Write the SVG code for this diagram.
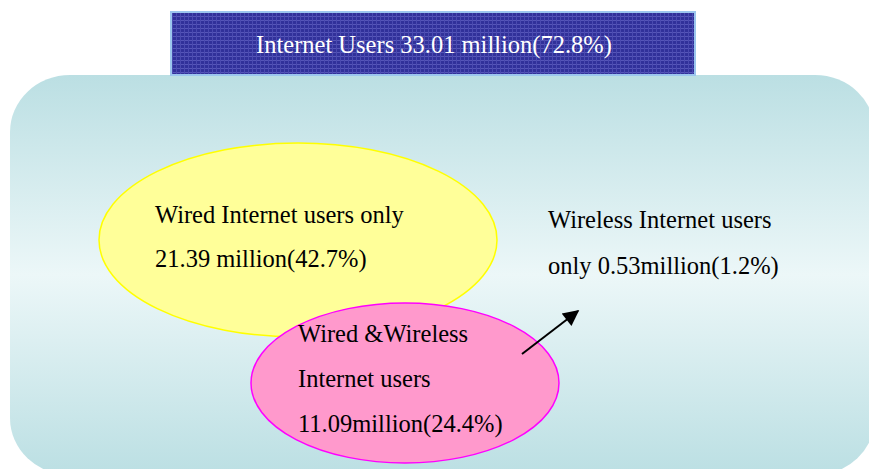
<svg xmlns="http://www.w3.org/2000/svg" width="869" height="469" viewBox="0 0 869 469">
  <style>
    .lbl { font-family: "Liberation Serif", "Times New Roman", serif; font-size: 24.5px; fill: #000; }
    .title { font-family: "Liberation Serif", "Times New Roman", serif; font-size: 24.5px; fill: #fff; }
    .conn { stroke: #000; stroke-width: 2; fill: none; }
  </style>
  <defs>
    <linearGradient id="panelFill" x1="0" y1="0" x2="0" y2="1">
      <stop offset="0" stop-color="#bbdfe3"/>
      <stop offset="0.5" stop-color="#ecf7f8"/>
      <stop offset="1" stop-color="#bbdfe3"/>
    </linearGradient>
    <pattern id="weave" width="4" height="4" patternUnits="userSpaceOnUse">
      <rect width="4" height="4" fill="#31319a"/>
      <rect x="0" y="0" width="4" height="1" fill="#5656b8"/>
      <rect x="0" y="0" width="1" height="4" fill="#4a4ab0"/>
    </pattern>
    <marker id="arrowHead" viewBox="0 0 10 10" refX="9" refY="5" markerWidth="18" markerHeight="16" markerUnits="userSpaceOnUse" orient="auto">
      <path d="M0,0 L10,5 L0,10 z" fill="#000"/>
    </marker>
  </defs>

  <!-- background panel -->
  <g id="panel">
    <rect x="10" y="75" width="865" height="400" rx="60" ry="57" fill="url(#panelFill)"/>
  </g>

  <!-- title bar -->
  <g id="title">
    <rect x="171" y="12" width="524" height="63" fill="url(#weave)" stroke="#9cc6ee" stroke-width="2"/>
    <text class="title" x="434" y="53" text-anchor="middle">Internet Users 33.01 million(72.8%)</text>
  </g>

  <!-- wired only -->
  <g id="wired">
    <ellipse cx="298" cy="240" rx="199" ry="97" fill="#ffff99" stroke="#ffff00" stroke-width="1.5"/>
    <text class="lbl" x="155" y="223">Wired Internet users only</text>
    <text class="lbl" x="155" y="267">21.39 million(42.7%)</text>
  </g>

  <!-- wired and wireless -->
  <g id="both">
    <ellipse cx="405" cy="383" rx="154" ry="80" fill="#ff99cc" stroke="#ff00ff" stroke-width="1.5"/>
    <text class="lbl" x="298" y="342">Wired &amp;Wireless</text>
    <text class="lbl" x="298" y="387">Internet users</text>
    <text class="lbl" x="298" y="432">11.09million(24.4%)</text>
  </g>

  <!-- wireless only -->
  <g id="wireless">
    <text class="lbl" x="548" y="228">Wireless Internet users</text>
    <text class="lbl" x="548" y="274">only 0.53million(1.2%)</text>
  </g>

  <g id="connectors">
    <line class="conn" x1="522" y1="354" x2="578" y2="311" marker-end="url(#arrowHead)"/>
  </g>
</svg>
